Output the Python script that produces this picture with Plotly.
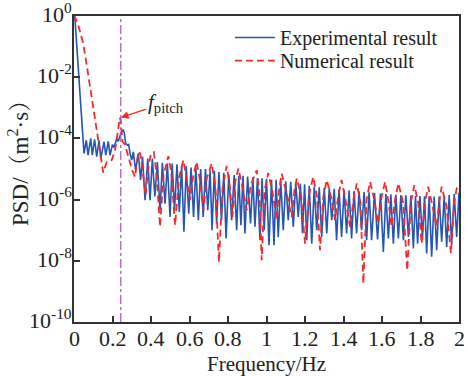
import plotly.graph_objects as go

# ---------------- data ----------------
# Experimental result: frequency (Hz) and log10(PSD)
blue_freq = [0.004, 0.026, 0.045, 0.052, 0.064, 0.073, 0.087, 0.095, 0.107, 0.118,
             0.130, 0.139, 0.156, 0.165, 0.178, 0.187, 0.200, 0.208, 0.222, 0.230,
             0.245, 0.256, 0.262, 0.268, 0.277, 0.284, 0.291, 0.300, 0.308, 0.320,
             0.334, 0.346, 0.356, 0.369, 0.383, 0.395, 0.407, 0.420, 0.433, 0.447,
             0.459, 0.473, 0.485, 0.499, 0.510, 0.522, 0.535, 0.547, 0.559, 0.571,
             0.583, 0.596, 0.608, 0.621, 0.633, 0.646, 0.658, 0.671, 0.683, 0.695,
             0.707, 0.717, 0.729, 0.741, 0.753, 0.766, 0.778, 0.790, 0.804, 0.819,
             0.832, 0.845, 0.856, 0.867, 0.878, 0.888, 0.902, 0.917, 0.929, 0.940,
             0.953, 0.966, 0.977, 0.988, 1.000, 1.013, 1.026, 1.039, 1.050, 1.061,
             1.074, 1.087, 1.100, 1.113, 1.126, 1.139, 1.152, 1.165, 1.176, 1.187,
             1.198, 1.209, 1.222, 1.235, 1.248, 1.261, 1.274, 1.287, 1.300, 1.313,
             1.326, 1.339, 1.352, 1.364, 1.377, 1.390, 1.403, 1.416, 1.429, 1.442,
             1.455, 1.468, 1.481, 1.494, 1.507, 1.520, 1.533, 1.546, 1.561, 1.577,
             1.592, 1.607, 1.620, 1.633, 1.646, 1.659, 1.672, 1.685, 1.698, 1.711,
             1.724, 1.737, 1.750, 1.763, 1.774, 1.785, 1.797, 1.810, 1.821, 1.832,
             1.845, 1.858, 1.871, 1.884, 1.897, 1.910, 1.923, 1.936, 1.949, 1.962,
             1.975, 1.988, 2.000]
blue_exp = [0.00, -2.00, -3.70, -4.49, -4.06, -4.55, -4.00, -4.55, -4.03, -4.60,
            -4.06, -4.66, -4.11, -4.55, -4.10, -4.55, -4.20, -4.30, -4.00, -4.10,
            -3.80, -3.72, -3.85, -4.15, -4.22, -4.20, -4.49, -4.71, -4.44, -5.04,
            -4.49, -5.36, -4.60, -6.02, -4.66, -6.02, -4.66, -5.90, -4.77, -6.35,
            -4.80, -6.13, -4.82, -6.57, -4.82, -6.35, -4.85, -6.40, -4.90, -7.05,
            -4.90, -6.46, -4.95, -6.57, -4.95, -6.67, -5.00, -6.57, -5.00, -6.35,
            -5.05, -7.00, -5.05, -6.78, -5.10, -6.67, -5.12, -7.27, -5.18, -6.67,
            -5.20, -7.00, -5.22, -6.84, -5.22, -7.11, -5.25, -6.78, -5.28, -6.89,
            -5.30, -7.33, -5.30, -7.00, -5.32, -7.49, -5.35, -7.49, -5.35, -7.22,
            -5.38, -7.00, -5.40, -6.67, -5.42, -6.89, -5.45, -6.57, -5.48, -7.10,
            -5.50, -7.33, -5.55, -7.44, -5.58, -7.00, -5.60, -7.22, -5.62, -7.11,
            -5.63, -6.67, -5.65, -7.33, -5.66, -7.22, -5.68, -7.11, -5.70, -7.27,
            -5.72, -7.11, -5.73, -7.00, -5.75, -7.33, -5.76, -7.33, -5.78, -7.30,
            -5.80, -7.71, -5.82, -7.27, -5.83, -7.44, -5.84, -7.27, -5.85, -7.33,
            -5.86, -7.22, -5.87, -7.60, -5.88, -7.44, -5.88, -7.27, -5.89, -7.76,
            -5.90, -7.87, -5.90, -7.65, -5.90, -7.38, -5.88, -7.55, -5.85, -7.44,
            -5.82, -7.22, -5.78]

# Numerical result: frequency (Hz) and log10(PSD)
red_freq = [0.000, 0.006, 0.020, 0.048, 0.066, 0.083, 0.100, 0.115, 0.130, 0.145,
            0.152, 0.160, 0.170, 0.196, 0.213, 0.225, 0.238, 0.243, 0.252, 0.265,
            0.282, 0.300, 0.317, 0.334, 0.345, 0.358, 0.372, 0.385, 0.400, 0.415,
            0.430, 0.447, 0.465, 0.490, 0.505, 0.525, 0.545, 0.568, 0.585, 0.603,
            0.620, 0.637, 0.655, 0.672, 0.690, 0.715, 0.735, 0.753, 0.772, 0.793,
            0.810, 0.823, 0.838, 0.854, 0.875, 0.897, 0.920, 0.949, 0.962, 0.975,
            0.990, 1.009, 1.030, 1.053, 1.065, 1.079, 1.105, 1.131, 1.145, 1.157,
            1.180, 1.200, 1.222, 1.243, 1.262, 1.278, 1.295, 1.313, 1.335, 1.356,
            1.372, 1.390, 1.410, 1.434, 1.452, 1.469, 1.488, 1.503, 1.520, 1.538,
            1.560, 1.580, 1.598, 1.616, 1.632, 1.650, 1.668, 1.685, 1.710, 1.731,
            1.750, 1.768, 1.788, 1.806, 1.822, 1.840, 1.862, 1.884, 1.897, 1.910,
            1.935, 1.958, 1.975, 1.988, 2.000]
red_exp = [-0.12, -0.05, -0.25, -0.90, -1.60, -2.30, -2.95, -3.50, -4.20, -4.85,
           -5.12, -4.95, -4.77, -4.71, -4.38, -3.90, -3.32, -3.45, -4.10, -4.20,
           -4.55, -5.00, -5.26, -4.45, -4.50, -5.20, -5.85, -5.00, -4.50, -4.45,
           -5.26, -6.89, -5.20, -4.58, -5.10, -6.84, -5.30, -4.71, -5.30, -6.02,
           -5.20, -4.77, -5.40, -6.35, -5.30, -4.82, -5.60, -8.04, -5.60, -4.90,
           -5.60, -6.57, -5.40, -4.98, -5.60, -6.35, -5.50, -5.04, -5.70, -7.98,
           -5.70, -5.13, -5.70, -6.67, -5.70, -5.15, -5.80, -6.57, -5.70, -5.31,
           -5.90, -7.44, -5.80, -5.26, -5.90, -7.65, -5.90, -5.36, -5.90, -6.67,
           -5.90, -5.36, -6.00, -6.89, -6.00, -5.47, -6.10, -8.74, -6.00, -5.42,
           -6.00, -6.78, -5.90, -5.42, -6.00, -6.89, -6.00, -5.47, -6.10, -8.31,
           -6.10, -5.53, -6.10, -7.44, -6.10, -5.58, -6.20, -6.89, -6.10, -5.58,
           -6.20, -7.75, -6.10, -5.64, -5.70]

f_pitch = 0.243          # Hz, vertical marker
f_pitch_peak = -3.32     # log10 PSD of the annotated peak
y_tick_exps = [-10, -8, -6, -4, -2, 0]
x_ticks = [0, 0.2, 0.4, 0.6, 0.8, 1, 1.2, 1.4, 1.6, 1.8, 2]
series_names = ["Experimental result", "Numerical result"]
x_title = "Frequency/Hz"
y_title = "PSD/（m<sup>2</sup>·s）"

# ---------------- figure ----------------
FONT = "Liberation Serif, Times New Roman, Noto Serif CJK SC, Noto Sans CJK SC, serif"
AX = "#333333"
TXT = "#222222"

fig = go.Figure()
fig.add_trace(go.Scatter(
    x=blue_freq, y=[10 ** v for v in blue_exp], mode="lines",
    name=series_names[0], legend="legend",
    line=dict(color="#2456b4", width=1.6)))
fig.add_trace(go.Scatter(
    x=red_freq, y=[10 ** v for v in red_exp], mode="lines",
    name=series_names[1], legend="legend2",
    line=dict(color="#f42a2a", width=1.8, dash="7px,4px")))

fig.add_shape(type="line", xref="x", yref="paper", x0=f_pitch, x1=f_pitch,
              y0=0, y1=1, line=dict(color="#b848c8", width=1.2, dash="dashdot"),
              layer="above")

fig.add_annotation(x=f_pitch, y=f_pitch_peak, xref="x", yref="y",
                   text="<i>f</i><sub>pitch</sub>", showarrow=True,
                   ax=45, ay=-15, arrowcolor="#f42a2a", arrowhead=2,
                   arrowsize=1.2, arrowwidth=1.3,
                   font=dict(family=FONT, size=21, color=TXT))

# tick labels as text placed at the tick values
for v in x_ticks:
    fig.add_annotation(x=v, y=0, xref="x", yref="paper", text=f"{v:g}",
                       showarrow=False, xanchor="center", yanchor="middle",
                       yshift=-16, font=dict(family=FONT, size=22, color=TXT))
for e in y_tick_exps:
    fig.add_annotation(x=0, y=e, xref="paper", yref="y",
                       text=f"10<sup>{e}</sup>", showarrow=False,
                       xanchor="right", yanchor="middle", xshift=0, yshift=3,
                       font=dict(family=FONT, size=22, color=TXT))

# axis titles
fig.add_annotation(x=0.5, y=0, xref="paper", yref="paper", text=x_title,
                   showarrow=False, xanchor="center", yanchor="middle",
                   yshift=-42, font=dict(family=FONT, size=21, color=TXT))
fig.add_annotation(x=0, y=0.536, xref="paper", yref="paper", text=y_title,
                   showarrow=False, textangle=-90, xanchor="center",
                   yanchor="middle", xshift=-55,
                   font=dict(family=FONT, size=23, color=TXT))

fig.update_xaxes(range=[0, 2], tickvals=x_ticks, showticklabels=False,
                 showgrid=False, zeroline=False,
                 showline=True, linecolor=AX, linewidth=1.6, mirror=True,
                 ticks="inside", ticklen=6, tickwidth=1.5, tickcolor=AX,
                 automargin=False)
fig.update_yaxes(type="log", range=[-10, 0],
                 tickvals=[10 ** e for e in y_tick_exps], showticklabels=False,
                 showgrid=False, zeroline=False,
                 showline=True, linecolor=AX, linewidth=1.6, mirror=True,
                 ticks="inside", ticklen=6, tickwidth=1.5, tickcolor=AX,
                 automargin=False)

legend_common = dict(xanchor="left", yanchor="top", bgcolor="rgba(0,0,0,0)",
                     borderwidth=0, font=dict(family=FONT, size=20, color=TXT),
                     itemwidth=40)
fig.update_layout(
    width=468, height=376,
    margin=dict(l=74, r=9, t=16, b=54),
    paper_bgcolor="white", plot_bgcolor="white",
    showlegend=True,
    legend=dict(x=0.405, y=0.9935, **legend_common),
    legend2=dict(x=0.405, y=0.918, **legend_common),
)

fig.write_html("out.html")
